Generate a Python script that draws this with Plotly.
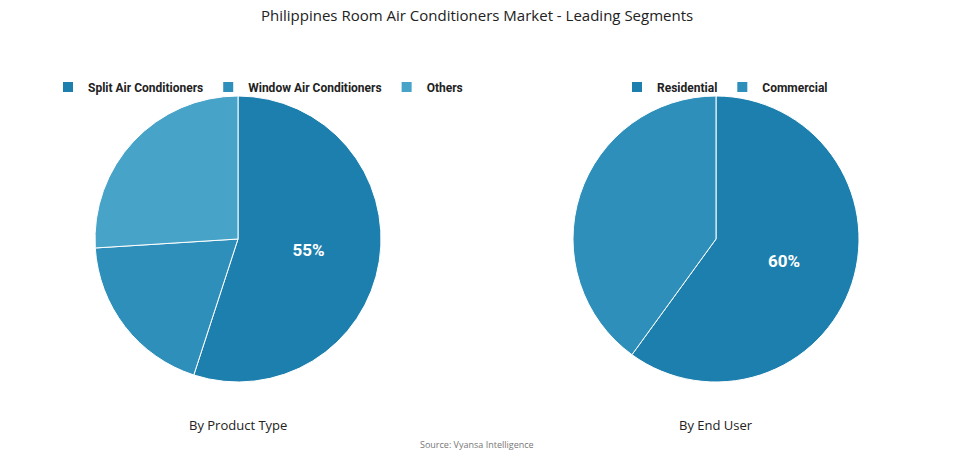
import plotly.graph_objects as go

prod_labels = ["Split Air Conditioners", "Window Air Conditioners", "Others"]
prod_values = [55, 19, 26]
user_labels = ["Residential", "Commercial"]
user_values = [60, 40]

W, H = 955, 454
OX, OY = 8, 8  # page body margin compensation
fig = go.Figure()
def dom(x0, x1, y0, y1):
    return dict(x=[(x0 - OX) / W, (x1 - OX) / W], y=[1 - (y1 - OY) / H, 1 - (y0 - OY) / H])
def px(x): return (x - OX) / W
def py(y): return 1 - (y - OY) / H

fig.add_trace(go.Pie(
    labels=prod_labels, values=prod_values, sort=False, direction="clockwise", rotation=0,
    marker=dict(colors=["#1c7fae", "#2e8fba", "#47a3c8"], line=dict(color="white", width=1)),
    text=[f"{prod_values[0]}%", "", ""], textinfo="text", textposition="inside",
    insidetextorientation="horizontal",
    textfont=dict(size=17, color="white", family="Roboto", weight="bold"),
    domain=dom(95, 381, 96, 382), legend="legend", hoverinfo="label+percent"))
fig.add_trace(go.Pie(
    labels=user_labels, values=user_values, sort=False, direction="clockwise", rotation=0,
    marker=dict(colors=["#1c7fae", "#2e8fba"], line=dict(color="white", width=1)),
    text=[f"{user_values[0]}%", ""], textinfo="text", textposition="inside",
    insidetextorientation="horizontal",
    textfont=dict(size=17, color="white", family="Roboto", weight="bold"),
    domain=dom(573, 859, 96, 382), legend="legend2", hoverinfo="label+percent"))

leg = dict(orientation="h", xanchor="left", yanchor="middle",
           font=dict(size=12, color="#222", family="Roboto", weight="bold"),
           itemwidth=30, itemsizing="constant", tracegroupgap=0, bgcolor="rgba(0,0,0,0)")
fig.update_layout(
    width=W, height=H, margin=dict(l=0, r=0, t=0, b=0),
    paper_bgcolor="white", plot_bgcolor="white", font=dict(family="Open Sans"),
    legend=dict(x=px(48), y=py(87), **leg),
    legend2=dict(x=px(617), y=py(87), **leg),
    annotations=[
        dict(text="Philippines Room Air Conditioners Market - Leading Segments",
             x=px(477), y=py(15), xref="paper", yref="paper",
             xanchor="center", yanchor="middle",
             showarrow=False, font=dict(size=15, color="#222")),
        dict(text="By Product Type", x=px(238), y=py(425), xref="paper", yref="paper",
             xanchor="center", yanchor="middle",
             showarrow=False, font=dict(size=13, color="#222")),
        dict(text="By End User", x=px(716), y=py(425), xref="paper", yref="paper",
             xanchor="center", yanchor="middle",
             showarrow=False, font=dict(size=13, color="#222")),
        dict(text="Source: Vyansa Intelligence", x=px(477), y=py(444), xref="paper", yref="paper",
             xanchor="center", yanchor="middle",
             showarrow=False, font=dict(size=9, color="#777")),
    ])
fig.write_html("out.html")
